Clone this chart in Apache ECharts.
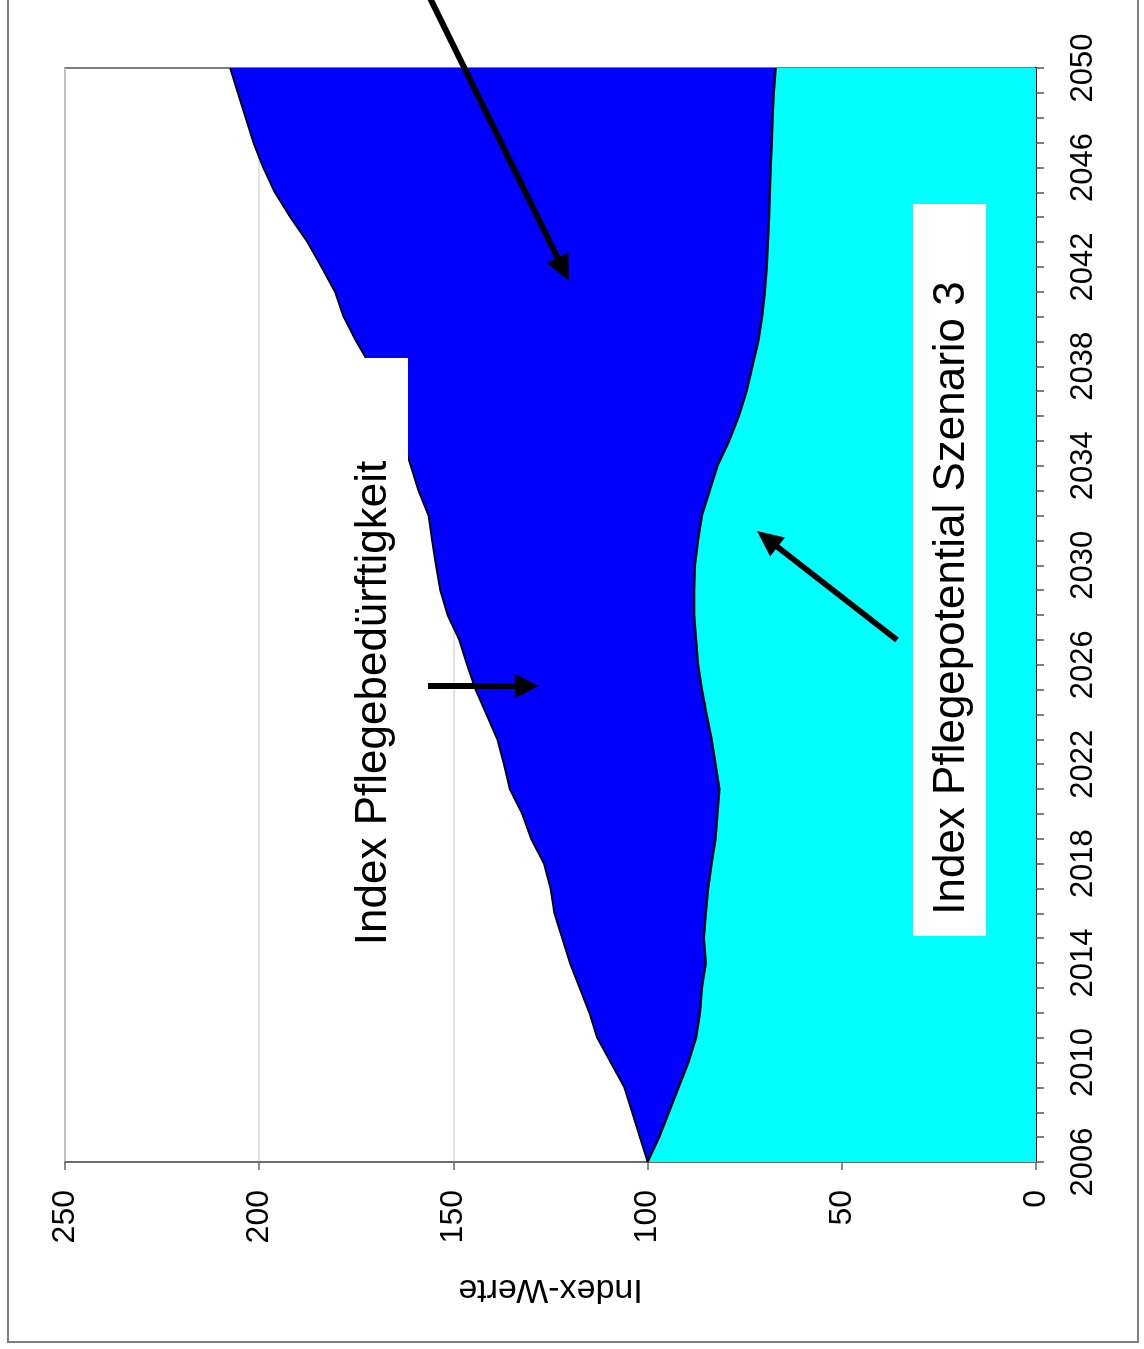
<!DOCTYPE html>
<html>
<head>
<meta charset="utf-8">
<script src="https://cdn.jsdelivr.net/npm/echarts@6/dist/echarts.min.js"></script>
<style>
html,body{margin:0;padding:0;background:#fff;}
#chart{width:1144px;height:1349px;}
</style>
</head>
<body>
<div id="chart"></div>
<script>
// ---- Data ----
const years = [];
for (let y = 2006; y <= 2050; y++) years.push(String(y));

const pflegebeduerftigkeit = [
  100, 102, 104, 106, 109.5, 113, 115, 117.5, 120, 122,
  124, 125, 126.7, 130, 132.3, 135.5, 137, 138.7, 141.5, 144.3,
  146.5, 148.5, 151.5, 153.4, 154.5, 155.5, 156.4, 159, 161, 163,
  165.5, 168, 171.3, 175, 178.3, 180.5, 184, 187.6, 192, 196,
  199, 201.5, 203.5, 205.5, 207.5
];

const pflegepotential = [
  100, 97, 94.5, 92, 89.5, 87.5, 86.5, 86, 85, 85.5,
  85, 84.4, 83.5, 82.5, 82, 81.5, 82.5, 83.5, 84.8, 86,
  87, 87.5, 88, 88, 87.8, 87, 86, 84, 82, 79,
  76.5, 74.5, 73, 71.5, 70.5, 69.8, 69.3, 69, 68.7, 68.5,
  68.3, 68, 67.8, 67.5, 67
];

const valueTicks = { min: 0, max: 250, interval: 50 };
const axisName = 'Index-Werte';
const label1 = 'Index Pflegebedürftigkeit';
const label2 = 'Index Pflegepotential Szenario 3';

// ---- helpers for annotation arrows ----
function arrow(x1, y1, x2, y2, w, hl, hw) {
  const dx = x2 - x1, dy = y2 - y1;
  const L = Math.sqrt(dx * dx + dy * dy);
  const ux = dx / L, uy = dy / L;
  const px = -uy, py = ux;
  const bx = x2 - ux * hl, by = y2 - uy * hl;
  return [
    { type: 'line', z: 100, shape: { x1: x1, y1: y1, x2: bx + ux * 2, y2: by + uy * 2 },
      style: { stroke: '#000', lineWidth: w } },
    { type: 'polygon', z: 100, shape: { points: [[x2, y2], [bx + px * hw / 2, by + py * hw / 2], [bx - px * hw / 2, by - py * hw / 2]] },
      style: { fill: '#000' } }
  ];
}

const FONT = '"Liberation Sans", Arial, Helvetica, sans-serif';

const chart = echarts.init(document.getElementById('chart'), null, { renderer: 'canvas' });

const graphics = [
  // outer frame
  { type: 'rect', z: 1, shape: { x: 8, y: -10, width: 1130, height: 1352 },
    style: { fill: null, stroke: '#7f7f7f', lineWidth: 2 } },
  // white box behind label 1 (hides part of blue area)
  { type: 'rect', z: 50, shape: { x: 340, y: 358, width: 68, height: 600 },
    style: { fill: '#fff' } },
  { type: 'text', z: 60, x: 374, y: 703, rotation: Math.PI / 2,
    style: { text: label1, font: '44px ' + FONT, fill: '#000', align: 'center', verticalAlign: 'middle' } },
  // white box with label 2
  { type: 'rect', z: 50, shape: { x: 913, y: 204, width: 73, height: 732 },
    style: { fill: '#fff' } },
  { type: 'text', z: 60, x: 952, y: 598, rotation: Math.PI / 2,
    style: { text: label2, font: '44px ' + FONT, fill: '#000', align: 'center', verticalAlign: 'middle' } }
]
  .concat(arrow(430, -2, 569, 281, 6, 26, 24))
  .concat(arrow(428, 686, 539, 686, 6, 24, 24))
  .concat(arrow(897, 640, 757, 531, 6, 26, 24));

const option = {
  animation: false,
  backgroundColor: '#fff',
  grid: {
    left: 65, right: 108, top: 68, bottom: 187,
    show: true, borderColor: '#555', borderWidth: 1.5, backgroundColor: 'transparent'
  },
  xAxis: {
    type: 'value',
    inverse: true,
    min: valueTicks.min, max: valueTicks.max, interval: valueTicks.interval,
    position: 'bottom',
    name: axisName,
    nameLocation: 'middle',
    nameGap: 110,
    nameRotate: 180,
    nameTextStyle: { fontFamily: FONT, fontSize: 34, color: '#000' },
    axisLine: { show: true, lineStyle: { color: '#666', width: 1.5 } },
    axisTick: { show: true, length: 8, lineStyle: { color: '#666', width: 1.5 } },
    axisLabel: { rotate: 90, margin: 28, fontFamily: FONT, fontSize: 32, color: '#000' },
    splitLine: { show: true, lineStyle: { color: '#d9d9d9', width: 1.5 } }
  },
  yAxis: {
    type: 'category',
    data: years,
    boundaryGap: false,
    position: 'right',
    axisLine: { show: true, onZero: false, lineStyle: { color: '#000', width: 2 } },
    axisTick: { show: true, interval: 0, length: 8, lineStyle: { color: '#555', width: 1.5 } },
    axisLabel: { interval: 3, rotate: 90, margin: 32, fontFamily: FONT, fontSize: 31, color: '#000' },
    splitLine: { show: false }
  },
  series: [
    {
      name: label1,
      type: 'line',
      data: pflegebeduerftigkeit,
      symbol: 'none',
      z: 2,
      lineStyle: { color: '#000', width: 1.8 },
      areaStyle: { color: '#0000ff', opacity: 1 }
    },
    {
      name: label2,
      type: 'line',
      data: pflegepotential,
      symbol: 'none',
      z: 3,
      lineStyle: { color: '#000', width: 2.2 },
      areaStyle: { color: '#00ffff', opacity: 1 }
    }
  ],
  graphic: graphics
};

chart.setOption(option);
</script>
</body>
</html>
